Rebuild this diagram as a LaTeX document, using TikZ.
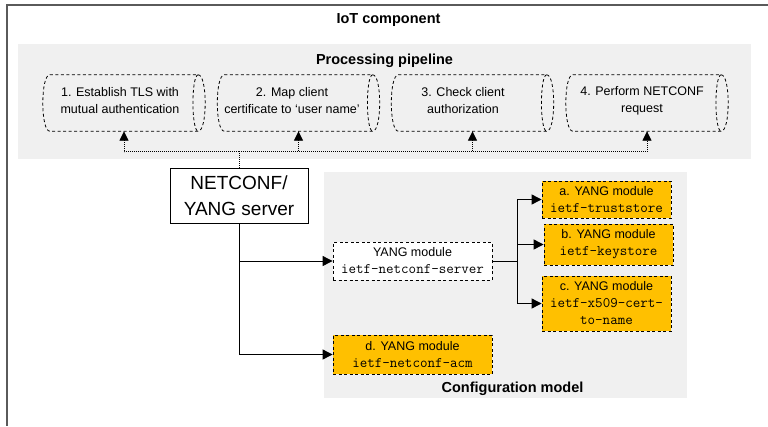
\documentclass[tikz,border=0pt]{standalone}
\usepackage{fontspec}
\setmainfont{Liberation Sans}
\usetikzlibrary{arrows.meta,calc}

\definecolor{panelgray}{HTML}{F0F0F0}
\definecolor{modorange}{HTML}{FFC000}
\definecolor{framegray}{HTML}{5A5A5A}

% monospaced module name inside a box
\newcommand\modname[1]{{\fontsize{14.6}{17}\selectfont\ttfamily #1}}

% horizontal cylinder outline around a node: curved left cap, full ellipse on the right
\newcommand\drawcylinder[1]{%
  \draw[cylline] ($(#1.north west)+(7,0)$) -- ($(#1.north east)+(-7,0)$)
    .. controls ($(#1.north east)+(2.33,0)$) and ($(#1.south east)+(2.33,0)$) .. ($(#1.south east)+(-7,0)$)
    -- ($(#1.south west)+(7,0)$)
    .. controls ($(#1.south west)+(-2.33,0)$) and ($(#1.north west)+(-2.33,0)$) .. cycle;
  \draw[cylline] ($(#1.north east)+(-7,0)$)
    .. controls ($(#1.north east)+(-14,0)$) and ($(#1.south east)+(-14,0)$) .. ($(#1.south east)+(-7,0)$);
}

\begin{document}
\begin{tikzpicture}[x=1pt,y=-1pt,
  title/.style={font=\fontsize{14.5}{17}\selectfont\bfseries, anchor=base, inner sep=0pt},
  panel/.style={fill=panelgray, draw=none, inner sep=0pt},
  cylbody/.style={minimum width=162pt, minimum height=56pt, inner sep=0pt, draw=none},
  cylline/.style={draw=black, line width=0.8pt, dash pattern=on 3pt off 2.5pt},
  steptext/.style={font=\fontsize{12.5}{17}\selectfont, align=center, inner sep=0pt},
  modbox/.style={font=\fontsize{12.5}{17}\selectfont, align=center, inner sep=0pt,
                 draw=black, line width=0.8pt, dash pattern=on 3pt off 2.5pt},
  whitemod/.style={modbox, fill=white},
  orangemod/.style={modbox, fill=modorange},
  server/.style={draw=black, line width=0.9pt, fill=white, inner sep=0pt,
                 font=\fontsize{19}{26.5}\selectfont, align=center},
  arr/.style={draw=black, line width=0.9pt, -{Triangle[length=10pt,width=10pt]}},
  dotarr/.style={draw=black, line width=0.9pt, dash pattern=on 1pt off 1pt,
                 -{Triangle[length=9.5pt,width=9pt]}}
]
\useasboundingbox (0,0) rectangle (768,426);

% enclosing component frame (top and left edges)
\draw[framegray, line width=1.4pt] (768,5) -- (7,5) -- (7,426);
\node[title] (iot) at (388.5,23) {IoT component};

% processing pipeline panel
\node[panel, minimum width=733pt, minimum height=115pt] (pipe) at (384.5,101.5) {};
\node[title] (pipetitle) at (384.5,64) {Processing pipeline};

\node[cylbody] (p1) at (124,103) {};
\node[cylbody] (p2) at (298.5,103) {};
\node[cylbody] (p3) at (472.5,103) {};
\node[cylbody] (p4) at (647,103) {};
\foreach \c in {p1,p2,p3,p4} {\drawcylinder{\c}}

\node[steptext] (p1t) at (120,101) {1. Establish TLS with\\mutual authentication};
\node[steptext] (p2t) at (292,101) {2. Map client\\certificate to ‘user name’};
\node[steptext] (p3t) at (463,101) {3. Check client\\authorization};
\node[steptext] (p4t) at (642,101) {4. Perform NETCONF\\request};

% configuration model panel
\node[panel, minimum width=363pt, minimum height=226pt] (cfg) at (505.5,285) {};
\node[title] (cfgtitle) at (512.5,392) {Configuration model};

% server
\node[server, minimum width=138pt, minimum height=55pt] (srv) at (239,195.5) {NETCONF/\\YANG server};

% modules
\node[whitemod, minimum width=159pt, minimum height=38pt] (ns) at (412.5,261)
  {YANG module\\\modname{ietf-netconf-server}};
\node[orangemod, minimum width=159pt, minimum height=39pt] (acm) at (412.5,354.5)
  {d. YANG module\\\modname{ietf-netconf-acm}};
\node[orangemod, minimum width=129pt, minimum height=37pt] (ts) at (606.5,199.5)
  {a. YANG module\\\modname{ietf-truststore}};
\node[orangemod, minimum width=129pt, minimum height=41pt] (ks) at (608.5,244.5)
  {b. YANG module\\\modname{ietf-keystore}};
\node[orangemod, minimum width=129pt, minimum height=55pt] (x509) at (606.5,303.5)
  {c. YANG module\\\modname{ietf-x509-cert-}\\\modname{to-name}};

% server to pipeline steps
\coordinate (pb) at ($(srv.north)+(0,-16)$);
\foreach \c in {p1,p2,p3,p4} {
  \draw[dotarr] (srv.north) -- (pb) -| (\c.south);
}

% server to configuration modules
\draw[arr] (srv.south) |- (ns.west);
\draw[arr] (srv.south) |- (acm.west);

% netconf-server module to the modules it uses
\coordinate (nb) at ($(ns.east)+(25,0)$);
\draw[arr] (ns.east) -- (nb) |- (ts.west);
\draw[arr] (ns.east) -- (nb) |- (ks.west);
\draw[arr] (ns.east) -- (nb) |- (x509.west);
\end{tikzpicture}
\end{document}
